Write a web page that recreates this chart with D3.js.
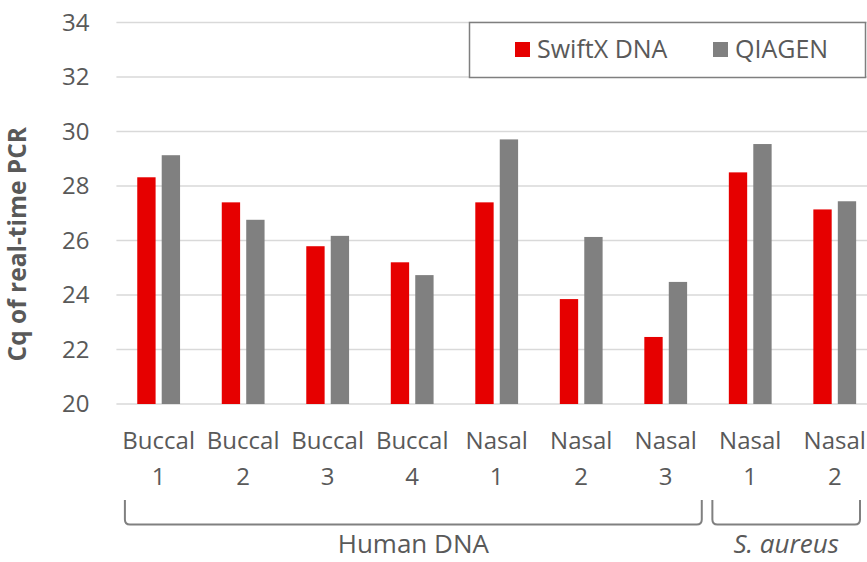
<!DOCTYPE html>
<html>
<head>
<meta charset="utf-8">
<script src="https://cdn.jsdelivr.net/npm/d3@7"></script>
<style>
  body { margin: 0; background: #fff; }
  svg { display: block; font-family: "Open Sans", sans-serif; }
</style>
</head>
<body>
<div class="canvas"></div>
<script>
// data
const samples = ["Buccal 1", "Buccal 2", "Buccal 3", "Buccal 4", "Nasal 1", "Nasal 2", "Nasal 3", "Nasal 1b", "Nasal 2b"];
const sampleLines = [["Buccal", "1"], ["Buccal", "2"], ["Buccal", "3"], ["Buccal", "4"], ["Nasal", "1"], ["Nasal", "2"], ["Nasal", "3"], ["Nasal", "1"], ["Nasal", "2"]];
const series = ["SwiftX DNA", "QIAGEN"];
const swiftx = [28.32, 27.40, 25.79, 25.20, 27.40, 23.85, 22.46, 28.50, 27.14];
const qiagen = [29.13, 26.76, 26.17, 24.73, 29.71, 26.13, 24.48, 29.54, 27.44];
const yTicks = [20, 22, 24, 26, 28, 30, 32, 34];
const groups = [
  { label: "Human DNA", from: 0, to: 6, italic: false },
  { label: "S. aureus", from: 7, to: 8, italic: true }
];

const colors = { "SwiftX DNA": "#e60000", "QIAGEN": "#808080" };
const textColor = "#595959";

const w = 867;
const h = 562;
const plot = { left: 116.4, right: 877, top: 22.5, bottom: 404 };

const svg = d3.select(".canvas").append("svg").attr("width", w).attr("height", h);

const x0 = d3.scaleBand().domain(samples).range([plot.left, plot.right]);
const x1 = d3.scaleBand().domain(series)
  .range([x0.bandwidth() / 2 - 21.4, x0.bandwidth() / 2 + 21.4])
  .paddingInner(0.25);
const y = d3.scaleLinear().domain([20, 34]).range([plot.bottom, plot.top]);

// gridlines
svg.append("g")
  .selectAll("line")
  .data(yTicks)
  .join("line")
  .attr("x1", plot.left)
  .attr("x2", plot.right)
  .attr("y1", (d) => y(d))
  .attr("y2", (d) => y(d))
  .attr("stroke", "#d9d9d9")
  .attr("stroke-width", 1.5);

// y axis labels
const yAxis = svg.append("g")
  .attr("transform", `translate(${plot.left - 27}, 0)`)
  .call(d3.axisLeft(y).tickValues(yTicks).tickSize(0).tickPadding(0));
yAxis.select(".domain").remove();
yAxis.selectAll("text")
  .attr("fill", textColor)
  .style("font-size", "24px")
  .style("font-family", "Open Sans, sans-serif");

// y title
svg.append("text")
  .attr("transform", `translate(26, ${(plot.top + plot.bottom) / 2 + 31}) rotate(-90)`)
  .attr("text-anchor", "middle")
  .attr("fill", textColor)
  .style("font-size", "24.5px")
  .style("font-weight", "bold")
  .text("Cq of real-time PCR");

// bars
const rows = samples.map((s, i) => ({ sample: s, values: [swiftx[i], qiagen[i]] }));
const barG = svg.append("g")
  .selectAll("g")
  .data(rows)
  .join("g")
  .attr("transform", (d) => `translate(${x0(d.sample)}, 0)`);

barG.selectAll("rect")
  .data((d) => series.map((s, j) => ({ key: s, value: d.values[j] })))
  .join("rect")
  .attr("x", (d) => x1(d.key))
  .attr("width", x1.bandwidth())
  .attr("y", (d) => y(d.value))
  .attr("height", (d) => y(20) - y(d.value))
  .attr("fill", (d) => colors[d.key]);

// category labels
const catG = svg.append("g")
  .selectAll("text")
  .data(samples)
  .join("text")
  .attr("x", (d) => x0(d) + x0.bandwidth() / 2)
  .attr("y", 449)
  .attr("text-anchor", "middle")
  .attr("fill", textColor)
  .style("font-size", "24px");
catG.append("tspan")
  .attr("x", (d) => x0(d) + x0.bandwidth() / 2)
  .text((d, i) => sampleLines[i][0]);
catG.append("tspan")
  .attr("x", (d) => x0(d) + x0.bandwidth() / 2)
  .attr("dy", 36)
  .text((d, i) => sampleLines[i][1]);

// group brackets
const bracketTop = 500;
const bracketBottom = 524.5;
const r = 5;
const groupExtent = (g) => {
  const a = x0(samples[g.from]);
  const b = x0(samples[g.to]) + x0.bandwidth();
  return g.from === 0 ? [a + 8.5, b - 6.2] : [a + 4.4, Math.min(b - 17, w - 7)];
};

groups.forEach((g) => {
  const [a, b] = groupExtent(g);
  svg.append("path")
    .attr("d", `M${a},${bracketTop} V${bracketBottom - r} Q${a},${bracketBottom} ${a + r},${bracketBottom} H${b - r} Q${b},${bracketBottom} ${b},${bracketBottom - r} V${bracketTop}`)
    .attr("fill", "none")
    .attr("stroke", "#808080")
    .attr("stroke-width", 2);
  svg.append("text")
    .attr("x", (a + b) / 2)
    .attr("y", 553)
    .attr("text-anchor", "middle")
    .attr("fill", textColor)
    .style("font-size", "26px")
    .style("font-style", g.italic ? "italic" : "normal")
    .text(g.label);
});

// legend
const legend = svg.append("g").attr("id", "legend");
legend.append("rect")
  .attr("x", 469.5)
  .attr("y", 22.5)
  .attr("width", 396)
  .attr("height", 55)
  .attr("fill", "#fff")
  .attr("stroke", "#7f7f7f")
  .attr("stroke-width", 1.5);

const legendX = [515, 713];
series.forEach((s, i) => {
  legend.append("rect")
    .attr("x", legendX[i])
    .attr("y", 42)
    .attr("width", 15)
    .attr("height", 15)
    .attr("fill", colors[s]);
  legend.append("text")
    .attr("x", legendX[i] + 22)
    .attr("y", 57.5)
    .attr("fill", textColor)
    .style("font-size", "25px")
    .text(s);
});
</script>
</body>
</html>
